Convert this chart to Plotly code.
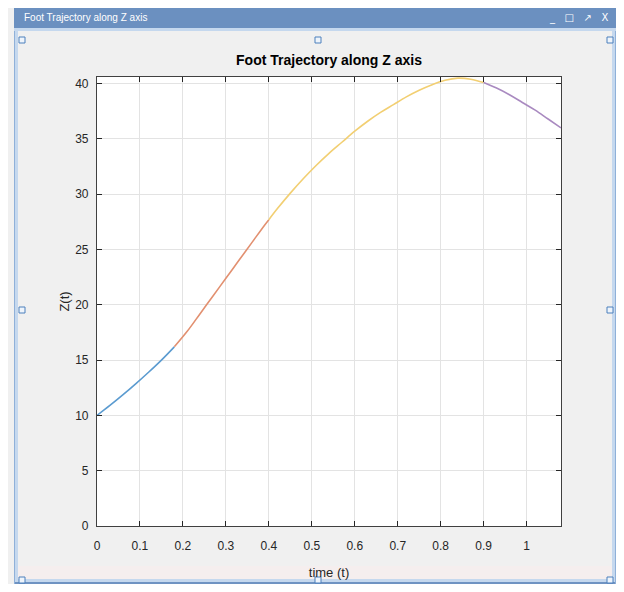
import plotly.graph_objects as go

# ---- data ----
seg1_t = [0.00, 0.03, 0.06, 0.09, 0.12, 0.15, 0.18]
seg1_z = [10.0, 10.9, 11.85, 12.85, 13.9, 15.0, 16.2]

seg2_t = [0.18, 0.21, 0.24, 0.27, 0.30, 0.33, 0.36, 0.39, 0.40]
seg2_z = [16.2, 17.6, 19.2, 20.8, 22.4, 24.0, 25.6, 27.2, 27.7]

seg3_t = [0.40, 0.42, 0.45, 0.48, 0.51, 0.54, 0.57, 0.60, 0.63, 0.66,
          0.69, 0.72, 0.75, 0.78, 0.81, 0.84, 0.87, 0.90]
seg3_z = [27.7, 28.7, 30.1, 31.4, 32.6, 33.7, 34.7, 35.7, 36.6, 37.4,
          38.1, 38.8, 39.4, 39.9, 40.3, 40.5, 40.4, 40.1]

seg4_t = [0.90, 0.93, 0.96, 0.99, 1.02, 1.05, 1.08]
seg4_z = [40.1, 39.6, 39.0, 38.3, 37.6, 36.8, 36.0]

x_ticks = [0, 0.1, 0.2, 0.3, 0.4, 0.5, 0.6, 0.7, 0.8, 0.9, 1]
y_ticks = [0, 5, 10, 15, 20, 25, 30, 35, 40]

colors = ["#5b9bd0", "#e29070", "#f2cf72", "#a98ac0"]

# the page adds an 8px body margin, so the figure covers the window only
OFF = 8
W, H = 616 - OFF, 584 - OFF
L, R, T, B = 97 - OFF, 561 - OFF, 77 - OFF, 526 - OFF
PW, PH = R - L, B - T


def px(x):
    return (x - OFF - L) / PW


def py(y):
    return (B - (y - OFF)) / PH


fig = go.Figure()
for tt, zz, c in zip([seg1_t, seg2_t, seg3_t, seg4_t],
                     [seg1_z, seg2_z, seg3_z, seg4_z], colors):
    fig.add_trace(go.Scatter(x=tt, y=zz, mode="lines",
                             line=dict(color=c, width=1.6, shape="spline"),
                             showlegend=False, hoverinfo="skip"))

font_fam = "Liberation Sans Narrow, Arial Narrow, Liberation Sans, Arial"

shapes = []


def rect(x0, y0, x1, y1, fill, line=None, lw=0):
    shapes.append(dict(type="rect", xref="paper", yref="paper",
                       x0=px(x0), x1=px(x1), y0=py(y0), y1=py(y1),
                       fillcolor=fill,
                       line=dict(color=line or fill, width=lw),
                       layer="above"))


# window borders (reference pixel coordinates)
rect(14, 8, 18, 584, "#c5d8ee")
rect(612, 8, 616, 584, "#c5d8ee")
rect(14, 579, 616, 584, "#c5d8ee")
rect(14, 582, 616, 584, "#6f93c2")
rect(14, 8, 15, 584, "#8fb0d8")
rect(615, 8, 616, 584, "#8fb0d8")
# title bar
rect(14, 8, 616, 28, "#6b90c0")
rect(14, 28, 616, 31, "#c5d8ee")
# light band at the bottom
rect(18, 566, 612, 579, "#f5eeee")

# resize handles
for hx, hy in [(22, 40), (318, 40), (610, 40), (22, 310), (610, 310),
               (22, 580), (318, 580), (610, 580)]:
    rect(hx - 3, hy - 3, hx + 3, hy + 3, "#eef4fb", line="#4d80bd", lw=1)

annotations = [
    dict(text="Foot Trajectory along Z axis", xref="paper", yref="paper",
         x=px(22), y=py(18), xanchor="left", yanchor="middle",
         showarrow=False, font=dict(family=font_fam, size=10, color="white")),
    dict(text="_   \u25a1   \u2197   X", xref="paper", yref="paper",
         x=px(610), y=py(18), xanchor="right", yanchor="middle",
         showarrow=False, font=dict(family="DejaVu Sans", size=10, color="white")),
]

fig.update_layout(
    width=W, height=H,
    margin=dict(l=L, r=W - R, t=T, b=H - B, pad=0, autoexpand=False),
    paper_bgcolor="#f0f0f0",
    plot_bgcolor="white",
    title=dict(text="<b>Foot Trajectory along Z axis</b>",
               x=(L + R) / 2 / W, xanchor="center",
               y=1 - (60 - OFF) / H, yanchor="middle",
               font=dict(family=font_fam, size=14, color="black")),
    font=dict(family=font_fam, size=12, color="#262626"),
    shapes=shapes,
    annotations=annotations,
)

fig.update_xaxes(range=[0, 1.08], tickvals=x_ticks,
                 ticktext=[("%g" % v) for v in x_ticks],
                 ticks="inside", ticklen=5, tickcolor="#262626",
                 ticklabelstandoff=8, automargin=False,
                 showline=True, linecolor="#404040", linewidth=1.2, mirror="ticks",
                 showgrid=True, gridcolor="#e3e3e3", gridwidth=1, zeroline=False,
                 title=dict(text="time (t)", standoff=16,
                            font=dict(size=13, color="#262626")),
                 tickfont=dict(size=12, color="#262626"))
fig.update_yaxes(range=[0, 40.6], tickvals=y_ticks,
                 ticks="inside", ticklen=5, tickcolor="#262626",
                 ticklabelstandoff=5, automargin=False,
                 showline=True, linecolor="#404040", linewidth=1.2, mirror="ticks",
                 showgrid=True, gridcolor="#e3e3e3", gridwidth=1, zeroline=False,
                 title=dict(text="Z(t)", standoff=2,
                            font=dict(size=13, color="#262626")),
                 tickfont=dict(size=12, color="#262626"))

fig.write_html("out.html")
